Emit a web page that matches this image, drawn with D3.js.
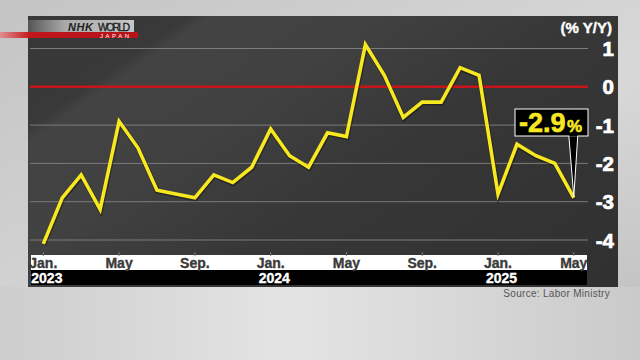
<!DOCTYPE html>
<html><head><meta charset="utf-8">
<script src="https://cdn.jsdelivr.net/npm/d3@7"></script>
<style>
html,body{margin:0;padding:0;background:#ccc;}
svg{display:block;}
text{font-family:"Liberation Sans Narrow","Liberation Sans",Arial,sans-serif;}
</style></head>
<body>
<svg id="c" width="640" height="360"></svg>
<script>
const months = ["Jan.","Feb.","Mar.","Apr.","May","Jun.","Jul.","Aug.","Sep.","Oct.","Nov.","Dec.",
  "Jan.","Feb.","Mar.","Apr.","May","Jun.","Jul.","Aug.","Sep.","Oct.","Nov.","Dec.",
  "Jan.","Feb.","Mar.","Apr.","May"];
const realWages = [-4.1,-2.9,-2.3,-3.2,-0.9,-1.6,-2.7,-2.8,-2.9,-2.3,-2.5,-2.1,
  -1.1,-1.8,-2.1,-1.2,-1.3,1.1,0.3,-0.8,-0.4,-0.4,0.5,0.3,
  -2.8,-1.5,-1.8,-2.0,-2.9];
const monthTickIdx = [0,4,8,12,16,20,24,28];
const years = [{idx:0,label:"2023"},{idx:12,label:"2024"},{idx:24,label:"2025"}];
const yTicks = [1,0,-1,-2,-3,-4];
const unitLabel = "(% Y/Y)";
const sourceText = "Source: Labor Ministry";
const calloutText = "-2.9";

const svg = d3.select("#c");
const defs = svg.append("defs");

// backgrounds
const bgG = defs.append("linearGradient").attr("id","bg").attr("x1",0).attr("y1",0).attr("x2",1).attr("y2",1);
bgG.append("stop").attr("offset","0%").attr("stop-color","#c4c4c4");
bgG.append("stop").attr("offset","60%").attr("stop-color","#d8d8d8");
bgG.append("stop").attr("offset","100%").attr("stop-color","#bdbdbd");
svg.append("rect").attr("width",640).attr("height",360).attr("fill","url(#bg)");
const botG = defs.append("linearGradient").attr("id","bot").attr("x1",0).attr("y1",0).attr("x2",1).attr("y2",0);
botG.append("stop").attr("offset","0%").attr("stop-color","#cdcdcd");
botG.append("stop").attr("offset","45%").attr("stop-color","#e4e4e4");
botG.append("stop").attr("offset","100%").attr("stop-color","#cacaca");
svg.append("rect").attr("x",0).attr("y",287).attr("width",640).attr("height",73).attr("fill","url(#bot)");

const pG = defs.append("linearGradient").attr("id","panel").attr("gradientUnits","userSpaceOnUse")
  .attr("x1",28).attr("y1",16).attr("x2",356).attr("y2",489);
pG.append("stop").attr("offset","0%").attr("stop-color","#373737");
pG.append("stop").attr("offset","16%").attr("stop-color","#393939");
pG.append("stop").attr("offset","18%").attr("stop-color","#434343");
pG.append("stop").attr("offset","34%").attr("stop-color","#414141");
pG.append("stop").attr("offset","55%").attr("stop-color","#373737");
pG.append("stop").attr("offset","100%").attr("stop-color","#303030");
svg.append("rect").attr("x",28).attr("y",16).attr("width",590).attr("height",271).attr("fill","url(#panel)");

const x = d3.scaleLinear().domain([0, realWages.length-1]).range([43.3, 573.8]);
const y = d3.scaleLinear().domain([-4, 1]).range([240, 48.5]);

// gridlines
svg.append("g").selectAll("line").data(yTicks.filter(d=>d!==0)).join("line")
  .attr("x1",30).attr("x2",588).attr("y1",d=>y(d)).attr("y2",d=>y(d))
  .attr("stroke","#7c7c7c").attr("stroke-width",1);
svg.append("line").attr("x1",30).attr("x2",588).attr("y1",y(0)).attr("y2",y(0))
  .attr("stroke","#c8141a").attr("stroke-width",2.6);

// y labels
svg.append("g").selectAll("text").data(yTicks).join("text")
  .attr("x",614).attr("y",d=>y(d)+7.5).attr("text-anchor","end")
  .attr("fill","#fff").attr("stroke","#fff").attr("stroke-width",0.7)
  .attr("font-weight","bold").attr("font-size",20.5)
  .text(d=>d<0?"-"+Math.abs(d):String(d));
svg.append("text").attr("x",612).attr("y",32.5).attr("text-anchor","end")
  .attr("fill","#fff").attr("stroke","#fff").attr("stroke-width",0.4)
  .attr("font-weight","bold").attr("font-size",15).text(unitLabel);

// bottom bands
svg.append("rect").attr("x",31).attr("y",255).attr("width",556).attr("height",15).attr("fill","#fff");
svg.append("rect").attr("x",31).attr("y",270).attr("width",556).attr("height",15).attr("fill","#000");
svg.append("g").selectAll("line").data(monthTickIdx).join("line")
  .attr("x1",d=>x(d)).attr("x2",d=>x(d)).attr("y1",252).attr("y2",256)
  .attr("stroke","#777").attr("stroke-width",1);
svg.append("g").selectAll("text").data(monthTickIdx).join("text")
  .attr("x",d=>x(d)).attr("y",267.5).attr("text-anchor","middle")
  .attr("fill","#3a3a3a").attr("stroke","#3a3a3a").attr("stroke-width",0.35)
  .attr("font-weight","bold").attr("font-size",14)
  .text(d=>months[d]);
svg.append("g").selectAll("text").data(years).join("text")
  .attr("x",d=>x(d.idx)-12).attr("y",282.5)
  .attr("fill","#fff").attr("stroke","#fff").attr("stroke-width",0.35)
  .attr("font-weight","bold").attr("font-size",14)
  .text(d=>d.label);

// source
svg.append("text").attr("x",610).attr("y",297).attr("text-anchor","end")
  .attr("fill","#555").attr("font-size",10).attr("letter-spacing",0.3)
  .style("font-family","'Liberation Sans',Arial,sans-serif").text(sourceText);

// line
const line = d3.line().x((d,i)=>x(i)).y(d=>y(d)).curve(d3.curveLinear);
svg.append("path").datum(realWages).attr("d",line).attr("fill","none")
  .attr("stroke","rgba(0,0,0,0.35)").attr("stroke-width",5).attr("stroke-linejoin","miter")
  .attr("transform","translate(0.5,1)");
svg.append("path").datum(realWages).attr("d",line).attr("fill","none")
  .attr("stroke","#f7e81f").attr("stroke-width",3.6).attr("stroke-linejoin","miter");

// callout
const li = realWages.length-1;
const px = x(li), py = y(realWages[li]);
const bx = 515, by = 109, bw = 73, bh = 27;
svg.append("path")
  .attr("d",`M${px-5},${by+bh-1} L${px+4},${by+bh-1} L${px},${py-1} Z`)
  .attr("fill","#000").attr("stroke","#fff").attr("stroke-width",1);
svg.append("rect").attr("x",bx).attr("y",by).attr("width",bw).attr("height",bh)
  .attr("fill","#000").attr("stroke","#fff").attr("stroke-width",1);
svg.append("rect").attr("x",px-4.5).attr("y",by+bh-1.5).attr("width",8).attr("height",2).attr("fill","#000");
const ct = svg.append("text").attr("x",bx+4).attr("y",by+23)
  .attr("fill","#f7e81f").attr("stroke","#f7e81f").attr("stroke-width",0.6)
  .attr("font-weight","bold").attr("font-size",27);
ct.append("tspan").text(calloutText);
ct.append("tspan").attr("font-size",17).attr("dx",1.5).text("%");

// logo
const lg = defs.append("linearGradient").attr("id","logo").attr("x1",0).attr("x2",1);
lg.append("stop").attr("offset","0%").attr("stop-color","#555");
lg.append("stop").attr("offset","35%").attr("stop-color","#aaa");
lg.append("stop").attr("offset","100%").attr("stop-color","#c6c6c6");
svg.append("rect").attr("x",28).attr("y",20).attr("width",106).attr("height",12).attr("fill","url(#logo)");
const rg = defs.append("linearGradient").attr("id","red").attr("x1",0).attr("x2",1);
rg.append("stop").attr("offset","0%").attr("stop-color","#e09090");
rg.append("stop").attr("offset","22%").attr("stop-color","#c0161c");
rg.append("stop").attr("offset","100%").attr("stop-color","#b5121a");
svg.append("rect").attr("x",0).attr("y",32).attr("width",138).attr("height",6).attr("fill","url(#red)");
svg.append("text").attr("x",68).attr("y",30.5).attr("fill","#222").attr("font-weight","bold")
  .attr("font-style","italic").attr("font-size",11).attr("textLength",25)
  .style("font-family","'Liberation Sans',Arial,sans-serif").text("NHK");
svg.append("text").attr("x",98).attr("y",30.5).attr("fill","#222").attr("textLength",32)
  .attr("font-size",10.5).attr("stroke","#222").attr("stroke-width",0.3)
  .style("font-family","'Liberation Sans',Arial,sans-serif").text("WORLD");
svg.append("text").attr("x",100).attr("y",37.6).attr("fill","#fff").attr("textLength",29)
  .attr("font-size",6).style("font-family","'Liberation Sans',Arial,sans-serif").text("JAPAN");
</script>
</body></html>
